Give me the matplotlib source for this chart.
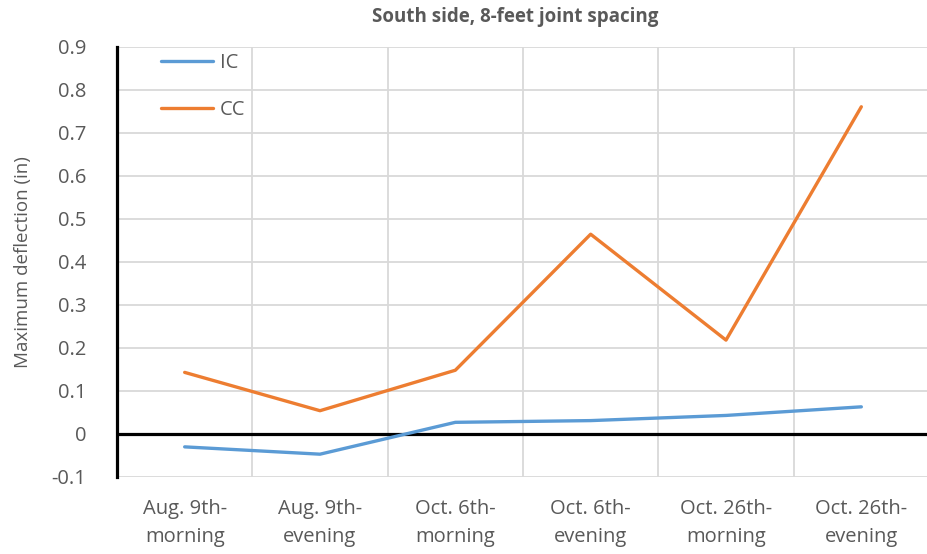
import matplotlib
matplotlib.use("Agg")
import matplotlib.pyplot as plt
import numpy as np

# ── Data ──────────────────────────────────────────────────────────────────────
categories = ["Aug. 9th-\nmorning", "Aug. 9th-\nevening", "Oct. 6th-\nmorning",
              "Oct. 6th-\nevening", "Oct. 26th-\nmorning", "Oct. 26th-\nevening"]
ic_values = [-0.030, -0.047, 0.027, 0.031, 0.043, 0.063]
cc_values = [0.143, 0.054, 0.148, 0.464, 0.218, 0.760]
y_ticks = [-0.1, 0, 0.1, 0.2, 0.3, 0.4, 0.5, 0.6, 0.7, 0.8, 0.9]
y_tick_labels = ["-0.1", "0", "0.1", "0.2", "0.3", "0.4", "0.5", "0.6", "0.7", "0.8", "0.9"]

plt.rcParams["font.family"] = ["Open Sans", "DejaVu Sans"]
GREY = "#595959"

fig = plt.figure(figsize=(9.27, 5.54), dpi=100)
ax = fig.add_axes([117 / 927, 1 - 477 / 554, 812 / 927, 430.5 / 554])

x = np.arange(len(categories))
ax.plot(x, ic_values, color="#5B9BD5", lw=2.4, label="IC", solid_capstyle="round", zorder=3)
ax.plot(x, cc_values, color="#ED7D31", lw=2.4, label="CC", solid_capstyle="round", zorder=3)

ax.set_xlim(-0.5, len(categories) - 0.5)
ax.set_ylim(-0.1, 0.9)
ax.set_yticks(y_ticks)
ax.set_yticklabels(y_tick_labels)
ax.set_xticks(x)
ax.set_xticklabels(categories, linespacing=1.5)

# gridlines: horizontal at ticks, vertical between categories
for yv in y_ticks:
    ax.axhline(yv, color="#D9D9D9", lw=1.3, zorder=1)
for xv in np.arange(0.5, len(categories), 1.0):
    ax.axvline(xv, color="#D9D9D9", lw=1.3, zorder=1)
ax.axhline(0, color="black", lw=2.3, zorder=2)

for s in ["top", "right", "bottom"]:
    ax.spines[s].set_visible(False)
ax.spines["left"].set_color("black")
ax.spines["left"].set_linewidth(2.3)

ax.tick_params(axis="both", length=0, colors=GREY, labelsize=14.5)
ax.tick_params(axis="y", pad=22)
ax.tick_params(axis="x", pad=16)

ax.set_ylabel("Maximum deflection (in)", color=GREY, fontsize=13.5, labelpad=14)
fig.text(515 / 927, 1 - 17 / 554, "South side, 8-feet joint spacing",
         ha="center", va="center", fontsize=13.5, fontweight="bold", color=GREY)

leg = ax.legend(loc="upper left", bbox_to_anchor=(0.032, 1.026), frameon=False,
                fontsize=14.5, handlelength=2.6, handletextpad=0.3, labelspacing=1.3)
for t in leg.get_texts():
    t.set_color(GREY)

fig.savefig("out.png", dpi=100)
